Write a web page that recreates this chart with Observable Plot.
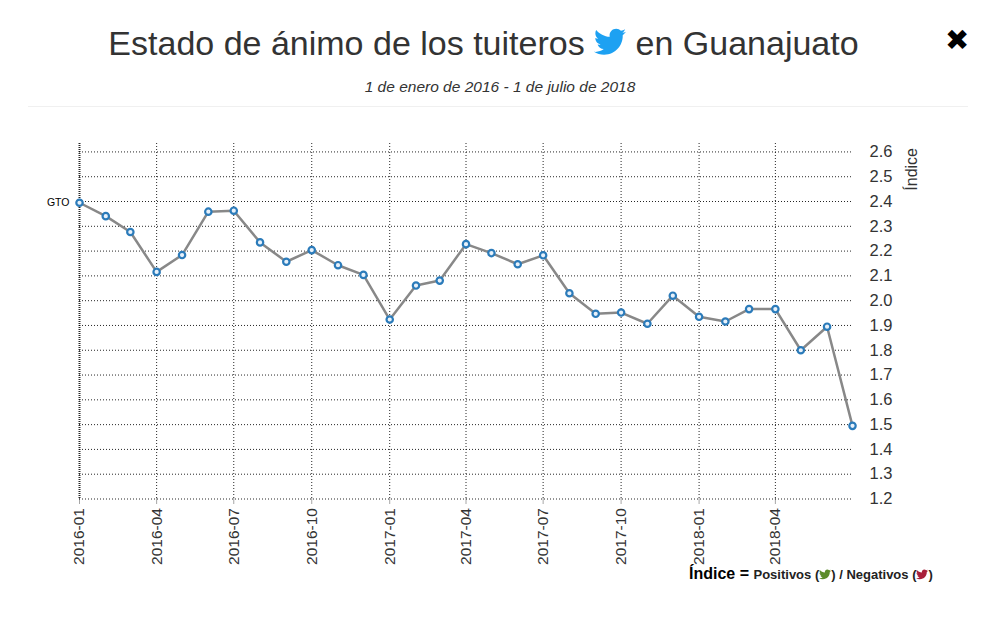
<!DOCTYPE html>
<html>
<head>
<meta charset="utf-8">
<script src="https://cdn.jsdelivr.net/npm/d3@7"></script>
<script src="https://cdn.jsdelivr.net/npm/@observablehq/plot@0.6"></script>
<style>
  body { margin: 0; background: #fff; font-family: "Liberation Sans", Arial, sans-serif; }
  #page { position: relative; width: 987px; height: 624px; overflow: hidden; }
  #title { position: absolute; left: 0; width: 967px; top: 24px; text-align: center; font-size: 34px; color: #333; white-space: nowrap; }
  #title svg { vertical-align: -2px; }
  #subtitle { position: absolute; left: 0; width: 1000px; top: 78px; text-align: center; font-size: 15.5px; font-style: italic; color: #333; }
  #sep { position: absolute; left: 28px; width: 940px; top: 106px; height: 1px; background: #f0f0f0; }
  #close { position: absolute; left: 945px; top: 23px; font-family: "DejaVu Sans", sans-serif; font-size: 29px; font-weight: bold; color: #000; }
  #chart { position: absolute; left: 0; top: 115px; }
  #legend { position: absolute; left: 689px; top: 565px; font-weight: bold; color: #222; white-space: nowrap; }
  #legend .big { font-size: 16px; color: #000; }
  #legend .small { font-size: 13px; }
  #legend svg { vertical-align: -1px; }
</style>
</head>
<body>
<div id="page">
  <div id="title">Estado de ánimo de los tuiteros <svg width="32" height="30" viewBox="0 40 512 440"><path fill="#1da1f2" d="M459.37 151.716c.325 4.548.325 9.097.325 13.645 0 138.72-105.583 298.558-298.558 298.558-59.452 0-114.68-17.219-161.137-47.106 8.447.974 16.568 1.299 25.34 1.299 49.055 0 94.213-16.568 130.274-44.832-46.132-.975-84.792-31.188-98.112-72.772 6.498.974 12.995 1.624 19.818 1.624 9.421 0 18.843-1.3 27.614-3.573-48.081-9.747-84.143-51.980-84.143-102.985v-1.299c13.969 7.797 30.214 12.67 47.431 13.319-28.264-18.843-46.781-51.005-46.781-87.391 0-19.492 5.197-37.36 14.294-52.954 51.655 63.675 129.3 105.258 216.365 109.807-1.624-7.797-2.599-15.918-2.599-24.04 0-57.828 46.782-104.934 104.934-104.934 30.213 0 57.502 12.67 76.67 33.137 23.715-4.548 46.456-13.32 66.599-25.34-7.798 24.366-24.366 44.833-46.132 57.827 21.117-2.273 41.584-8.122 60.426-16.243-14.292 20.791-32.161 39.308-52.628 54.253z"/></svg> en Guanajuato</div>
  <div id="subtitle">1 de enero de 2016 - 1 de julio de 2018</div>
  <div id="sep"></div>
  <div id="close">✖</div>
  <div id="chart"></div>
  <div id="legend"><span class="big">Índice =</span> <span class="small">Positivos (<svg width="12" height="11" viewBox="0 40 512 440"><path fill="#5b8c2a" d="M459.37 151.716c.325 4.548.325 9.097.325 13.645 0 138.72-105.583 298.558-298.558 298.558-59.452 0-114.68-17.219-161.137-47.106 8.447.974 16.568 1.299 25.34 1.299 49.055 0 94.213-16.568 130.274-44.832-46.132-.975-84.792-31.188-98.112-72.772 6.498.974 12.995 1.624 19.818 1.624 9.421 0 18.843-1.3 27.614-3.573-48.081-9.747-84.143-51.98-84.143-102.985v-1.299c13.969 7.797 30.214 12.67 47.431 13.319-28.264-18.843-46.781-51.005-46.781-87.391 0-19.492 5.197-37.36 14.294-52.954 51.655 63.675 129.3 105.258 216.365 109.807-1.624-7.797-2.599-15.918-2.599-24.04 0-57.828 46.782-104.934 104.934-104.934 30.213 0 57.502 12.67 76.670 33.137 23.715-4.548 46.456-13.32 66.599-25.34-7.798 24.366-24.366 44.833-46.132 57.827 21.117-2.273 41.584-8.122 60.426-16.243-14.292 20.791-32.161 39.308-52.628 54.253z"/></svg>) / Negativos (<svg width="12" height="11" viewBox="0 40 512 440"><path fill="#a8203a" d="M459.37 151.716c.325 4.548.325 9.097.325 13.645 0 138.72-105.583 298.558-298.558 298.558-59.452 0-114.68-17.219-161.137-47.106 8.447.974 16.568 1.299 25.34 1.299 49.055 0 94.213-16.568 130.274-44.832-46.132-.975-84.792-31.188-98.112-72.772 6.498.974 12.995 1.624 19.818 1.624 9.421 0 18.843-1.3 27.614-3.573-48.081-9.747-84.143-51.98-84.143-102.985v-1.299c13.969 7.797 30.214 12.67 47.431 13.319-28.264-18.843-46.781-51.005-46.781-87.391 0-19.492 5.197-37.36 14.294-52.954 51.655 63.675 129.3 105.258 216.365 109.807-1.624-7.797-2.599-15.918-2.599-24.04 0-57.828 46.782-104.934 104.934-104.934 30.213 0 57.502 12.67 76.67 33.137 23.715-4.548 46.456-13.32 66.599-25.34-7.798 24.366-24.366 44.833-46.132 57.827 21.117-2.273 41.584-8.122 60.426-16.243-14.292 20.791-32.161 39.308-52.628 54.253z"/></svg>)</span></div>
</div>
<script>
const months = ["2016-01","2016-02","2016-03","2016-04","2016-05","2016-06","2016-07","2016-08","2016-09","2016-10","2016-11","2016-12",
  "2017-01","2017-02","2017-03","2017-04","2017-05","2017-06","2017-07","2017-08","2017-09","2017-10","2017-11","2017-12",
  "2018-01","2018-02","2018-03","2018-04","2018-05","2018-06","2018-07"];
const indice = [2.395, 2.341, 2.277, 2.116, 2.184, 2.359, 2.363, 2.235, 2.157, 2.204, 2.143, 2.104,
  1.924, 2.061, 2.081, 2.228, 2.192, 2.147, 2.183, 2.030, 1.947, 1.952, 1.907, 2.020,
  1.935, 1.916, 1.966, 1.966, 1.800, 1.895, 1.495];
const xTickLabels = ["2016-01","2016-04","2016-07","2016-10","2017-01","2017-04","2017-07","2017-10","2018-01","2018-04"];
const yTicks = [1.2, 1.3, 1.4, 1.5, 1.6, 1.7, 1.8, 1.9, 2.0, 2.1, 2.2, 2.3, 2.4, 2.5, 2.6];
const seriesName = "GTO";
const yLabel = "Índice";

const parse = d3.utcParse("%Y-%m");
const data = months.map((m, i) => ({date: parse(m), value: indice[i], name: seriesName}));
const xTicks = xTickLabels.map(parse);

const W = 987, H = 509;
const chart = Plot.plot({
  width: W,
  height: H,
  marginLeft: 79,
  marginRight: 135,
  marginTop: 28,
  marginBottom: 125.5,
  style: {fontFamily: "'Liberation Sans', Arial, sans-serif", color: "#333", background: "transparent"},
  x: {type: "utc", domain: [parse(months[0]), parse(months[months.length - 1])]},
  y: {domain: [1.2, 2.634]},
  marks: [
    Plot.gridY(yTicks, {stroke: "#000", strokeOpacity: 0.85, strokeDasharray: "1,2"}),
    Plot.gridX(xTicks.slice(1), {stroke: "#000", strokeOpacity: 0.85, strokeDasharray: "1,2"}),
    Plot.ruleX([xTicks[0]], {stroke: "#000", strokeOpacity: 0.85, strokeWidth: 2, strokeDasharray: "1,1"}),
    Plot.axisX(xTicks, {tickFormat: d3.utcFormat("%Y-%m"), tickRotate: -90, tickSize: 5, tickPadding: 4, fontSize: 15.5, fill: "#333", stroke: "#000", strokeOpacity: 0.7, strokeDasharray: "1,1", label: null}),
    Plot.axisY(yTicks, {anchor: "right", tickFormat: d3.format(".1f"), tickSize: 0, tickPadding: 17, fontSize: 16.5, fill: "#333", label: null}),
    Plot.line(data, {x: "date", y: "value", stroke: "#888", strokeWidth: 2.5}),
    Plot.dot(data, {x: "date", y: "value", r: 3.2, stroke: "#2b7bba", strokeWidth: 2.2, fill: "#e8f1fa"}),
    Plot.text(data.slice(0, 1), {x: "date", y: "value", text: "name", textAnchor: "end", dx: -10, fontSize: 10.5, fill: "#000"})
  ]
});
document.getElementById("chart").appendChild(chart);

// rotated y-axis label at the top-right
d3.select(chart).append("text")
  .attr("transform", `translate(${W - 135 + 65},${28 + 5}) rotate(-90)`)
  .attr("text-anchor", "end")
  .attr("font-size", 16)
  .attr("fill", "#333")
  .text(yLabel);
</script>
</body>
</html>
